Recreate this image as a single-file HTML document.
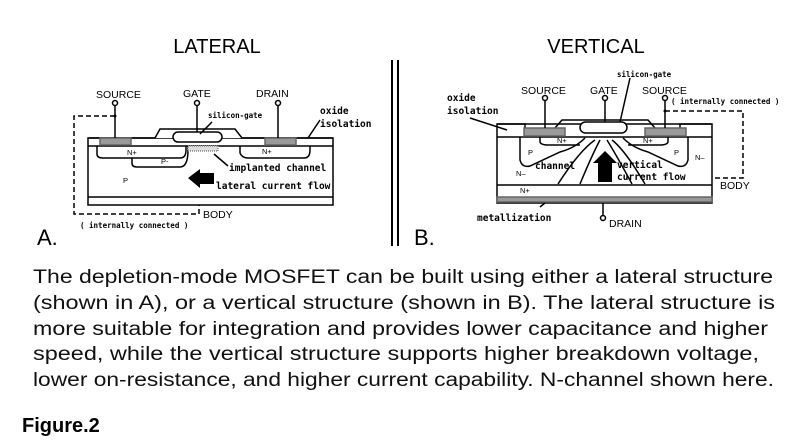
<!DOCTYPE html>
<html><head><meta charset="utf-8"><style>html,body{margin:0;padding:0;background:#fff}svg{display:block}</style></head>
<body>
<svg width="800" height="446" viewBox="0 0 800 446" xmlns="http://www.w3.org/2000/svg" font-family="Liberation Sans, sans-serif">
<rect width="800" height="446" fill="#fff"/>
<text x="217" y="53" font-size="20" text-anchor="middle">LATERAL</text>
<text x="596" y="53" font-size="20" text-anchor="middle">VERTICAL</text>
<line x1="392" y1="60" x2="392" y2="246" stroke="#000" stroke-width="2"/>
<line x1="398" y1="60" x2="398" y2="246" stroke="#000" stroke-width="2"/>

<!-- LATERAL -->
<g stroke="#000" stroke-width="1.5" fill="none">
<rect x="88" y="138" width="245" height="67" fill="#fff"/>
<line x1="88" y1="146" x2="333" y2="146"/>
<line x1="88" y1="197" x2="333" y2="197"/>
<path d="M88 138 H155 L160 129 H235 L242 138 H333" fill="#fff"/>
<rect x="173" y="132" width="49" height="10" rx="5" fill="#fff"/>
<rect x="100" y="138" width="31" height="7" fill="#999" stroke="#666"/>
<rect x="265" y="138" width="31" height="7" fill="#999" stroke="#666"/>
<path d="M97 146 V154 Q97 158 103 158 H180 Q186 158 186 150 V146"/>
<path d="M132 158 V163 Q132 167 137 167 H180 Q188 167 188 150 V146"/>
<path d="M240 146 V153 Q242 158 248 158 H304 Q310 158 310 150 V146"/>
<rect x="188" y="146" width="30" height="5" fill="#ddd" stroke="#888" stroke-dasharray="1 1"/>
<line x1="115" y1="106" x2="115" y2="138"/>
<line x1="197" y1="106" x2="197" y2="132"/>
<line x1="278" y1="106" x2="278" y2="138"/>
<circle cx="115" cy="103" r="2.5" fill="#fff"/>
<circle cx="197" cy="103" r="2.5" fill="#fff"/>
<circle cx="278" cy="103" r="2.5" fill="#fff"/>
<path d="M115 116 H74 V214 H199 V205" stroke-dasharray="5 3"/>
<line x1="320" y1="120" x2="308" y2="138"/>
<line x1="212" y1="122" x2="200" y2="134"/>
<line x1="228" y1="166" x2="214" y2="154"/>
</g>
<circle cx="115" cy="116" r="1.5"/>
<path d="M188 178 L200 169 V173 H214 V184 H200 V188 Z" fill="#000"/>
<g font-size="10.5">
<text x="96" y="98">SOURCE</text><text x="183" y="97">GATE</text><text x="256" y="97">DRAIN</text>
<text x="203" y="218">BODY</text>
<text x="37" y="245" font-size="22">A.</text>
</g>
<g font-family="DejaVu Sans Mono, Liberation Mono, monospace" font-size="9.5" font-weight="bold">
<text x="320" y="114">oxide</text><text x="320" y="127">isolation</text>
<text x="229" y="171">implanted channel</text>
<text x="216" y="189">lateral current flow</text>
<text x="80" y="228" font-size="7.5">( internally connected )</text>
<text x="208" y="118" font-size="7.5">silicon-gate</text>
</g>
<g font-size="7.5"><text x="127" y="155">N+</text><text x="161" y="164">P-</text><text x="262" y="154">N+</text><text x="123" y="183">P</text></g>

<!-- VERTICAL -->
<g stroke="#000" stroke-width="1.5" fill="none">
<rect x="497" y="124" width="215" height="79" fill="#fff"/>
<line x1="497" y1="137" x2="712" y2="137"/>
<line x1="497" y1="185" x2="712" y2="185"/>
<rect x="497" y="197" width="215" height="5" fill="#999" stroke="#666"/>
<path d="M497 124 H525 V137 M555 128 L562 120 H648 L655 128 M680 128 V124 H712" />
<rect x="580" y="122" width="47" height="11" rx="5.5" fill="#fff"/>
<rect x="524" y="128" width="41" height="8" fill="#999" stroke="#666"/>
<rect x="645" y="128" width="41" height="8" fill="#999" stroke="#666"/>
<path d="M520 137 V160 Q522 168 530 166 L560 152 Q575 148 585 138"/>
<path d="M540 137 V142 Q541 145 548 145 H580"/>
<path d="M688 137 V160 Q686 168 678 166 L648 152 Q633 148 623 138"/>
<path d="M668 137 V142 Q667 145 660 145 H628"/>
<path d="M558 184 Q580 150 595 140"/><path d="M580 184 Q592 155 600 140"/>
<path d="M645 184 Q625 150 612 140"/><path d="M632 184 Q618 158 607 140"/>
<line x1="545" y1="101" x2="545" y2="128"/>
<line x1="605" y1="101" x2="605" y2="122"/>
<line x1="665" y1="101" x2="665" y2="128"/>
<line x1="603" y1="203" x2="603" y2="215"/>
<circle cx="545" cy="98" r="2.5" fill="#fff"/>
<circle cx="605" cy="98" r="2.5" fill="#fff"/>
<circle cx="665" cy="98" r="2.5" fill="#fff"/>
<circle cx="603" cy="218" r="2.5" fill="#fff"/>
<path d="M665 111 H743 V178 H713" stroke-dasharray="5 3"/>
<line x1="470" y1="118" x2="507" y2="130"/>
<line x1="630" y1="78" x2="620" y2="122"/>
<line x1="545" y1="203" x2="540" y2="207"/>
</g>
<circle cx="665" cy="111" r="1.5"/>
<path d="M605 151 L617 163 H612 V182 H598 V163 H593 Z" fill="#000"/>
<g font-size="10.5">
<text x="521" y="94">SOURCE</text><text x="590" y="94">GATE</text><text x="642" y="94">SOURCE</text>
<text x="720" y="189">BODY</text><text x="609" y="227">DRAIN</text>
<text x="414" y="245" font-size="22">B.</text>
</g>
<g font-family="DejaVu Sans Mono, Liberation Mono, monospace" font-size="9.5" font-weight="bold">
<text x="447" y="101">oxide</text><text x="447" y="114">isolation</text>
<text x="477" y="221">metallization</text>
<text x="535" y="169">channel</text>
<text x="617" y="168">vertical</text><text x="617" y="180">current flow</text>
<text x="617" y="77" font-size="7.5">silicon-gate</text>
<text x="671" y="104" font-size="7.5">( internally connected )</text>
</g>
<g font-size="7.5"><text x="557" y="143">N+</text><text x="643" y="143">N+</text><text x="528" y="155">P</text><text x="674" y="155">P</text><text x="695" y="160">N–</text><text x="516" y="176">N–</text><text x="520" y="193">N+</text></g>

<g font-size="19" fill="#111">
<text x="33" y="283" textLength="740" lengthAdjust="spacingAndGlyphs">The depletion-mode MOSFET can be built using either a lateral structure</text>
<text x="33" y="309" textLength="742" lengthAdjust="spacingAndGlyphs">(shown in A), or a vertical structure (shown in B). The lateral structure is</text>
<text x="33" y="335" textLength="735" lengthAdjust="spacingAndGlyphs">more suitable for integration and provides lower capacitance and higher</text>
<text x="33" y="360" textLength="726" lengthAdjust="spacingAndGlyphs">speed, while the vertical structure supports higher breakdown voltage,</text>
<text x="33" y="386" textLength="741" lengthAdjust="spacingAndGlyphs">lower on-resistance, and higher current capability. N-channel shown here.</text>
</g>
<text x="22" y="432" font-size="20" font-weight="bold">Figure.2</text>
</svg>
</body></html>
